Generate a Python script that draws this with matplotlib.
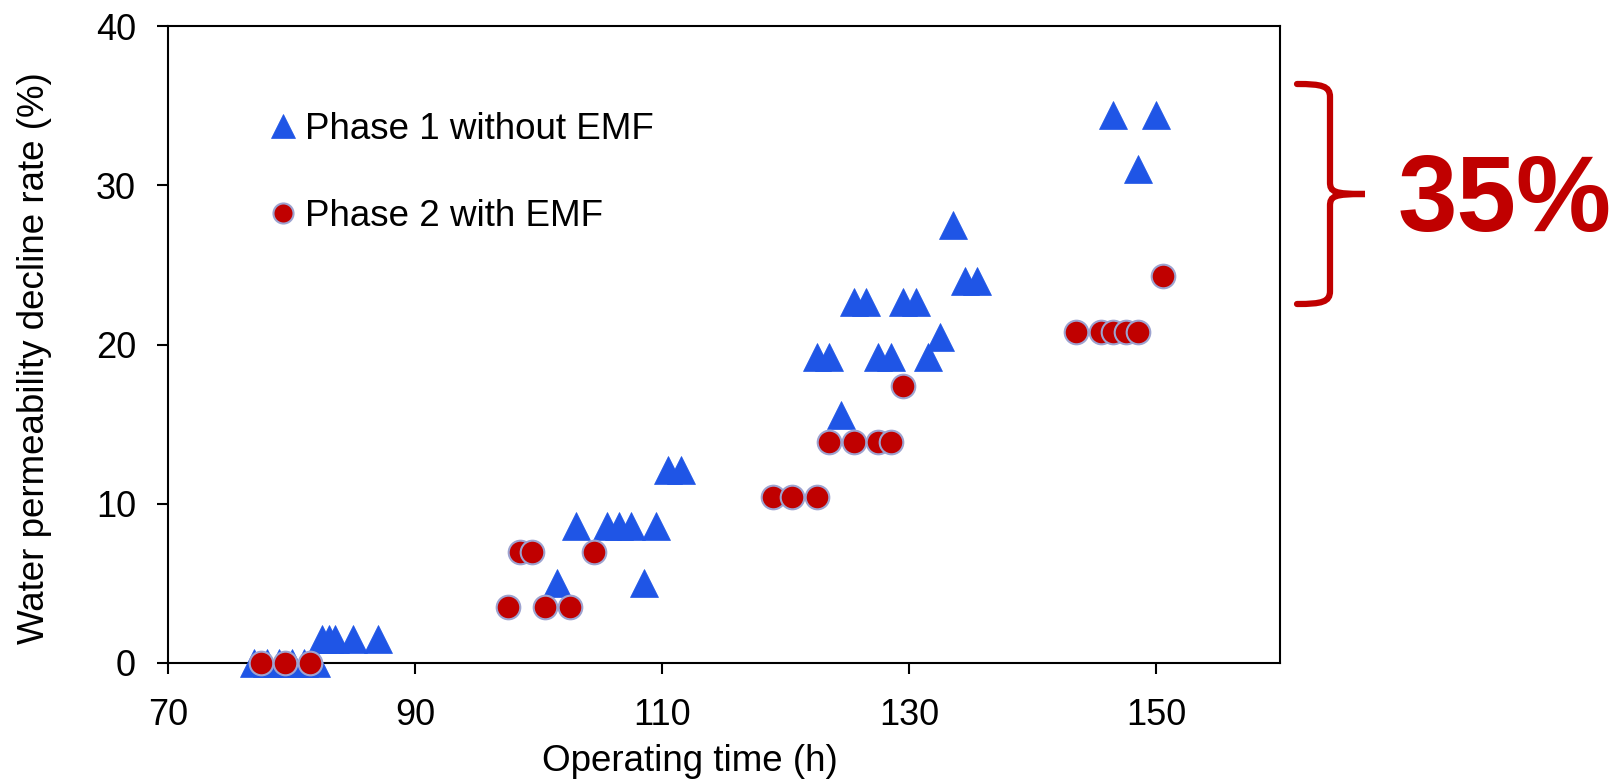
import matplotlib
matplotlib.use("Agg")
import matplotlib.pyplot as plt
from matplotlib.path import Path
from matplotlib.patches import PathPatch

plt.rcParams["font.family"] = ["Liberation Sans", "DejaVu Sans"]

# Phase 1 (without EMF)
phase1_time = [77, 78, 79, 80, 81, 82,
               82.5, 83, 83.5, 85, 87,
               101.5, 108.5,
               103, 105.5, 106.5, 107.5, 109.5,
               110.5, 111.5,
               124.5,
               122.5, 123.5, 127.5, 128.5, 131.5,
               132.5,
               125.5, 126.5, 129.5, 130.5,
               134.5, 135.5,
               133.5,
               148.5,
               146.5, 150]
phase1_rate = [0, 0, 0, 0, 0, 0,
               1.5, 1.5, 1.5, 1.5, 1.5,
               5.0, 5.0,
               8.6, 8.6, 8.6, 8.6, 8.6,
               12.1, 12.1,
               15.6,
               19.2, 19.2, 19.2, 19.2, 19.2,
               20.5,
               22.7, 22.7, 22.7, 22.7,
               24.0, 24.0,
               27.5,
               31.0,
               34.4, 34.4]

# Phase 2 (with EMF)
phase2_time = [77.5, 79.5, 81.5,
               97.5, 100.5, 102.5,
               98.5, 99.5, 104.5,
               119, 120.5, 122.5,
               123.5, 125.5, 127.5, 128.5,
               129.5,
               143.5, 145.5, 146.5, 147.5, 148.5,
               150.5]
phase2_rate = [0, 0, 0,
               3.5, 3.5, 3.5,
               7.0, 7.0, 7.0,
               10.4, 10.4, 10.4,
               13.9, 13.9, 13.9, 13.9,
               17.4,
               20.8, 20.8, 20.8, 20.8, 20.8,
               24.3]

x_ticks = [70, 90, 110, 130, 150]
y_ticks = [0, 10, 20, 30, 40]

blue = "#1F55E6"
red = "#C00000"

fig = plt.figure(figsize=(16.14, 7.80), dpi=100)
ax = fig.add_axes([168 / 1614, 1 - 663 / 780, (1280 - 168) / 1614, (663 - 26) / 780])

ax.plot(phase1_time, phase1_rate, linestyle="none", marker="^", ms=20,
        color=blue, mec=blue, mew=0.5, clip_on=False, zorder=3,
        label="Phase 1 without EMF")
ax.plot(phase2_time, phase2_rate, linestyle="none", marker="o", ms=17,
        color=red, mec="#9DA3D0", mew=1.5, clip_on=False, zorder=4,
        label="Phase 2 with EMF")

ax.set_xlim(70, 160)
ax.set_ylim(0, 40)
ax.set_xticks(x_ticks)
ax.set_yticks(y_ticks)
ax.tick_params(direction="out", length=8, width=1.5, labelsize=26)
ax.tick_params(axis="x", pad=17)
ax.tick_params(axis="y", pad=15)
for sp in ax.spines.values():
    sp.set_linewidth(1.5)

ax.set_xlabel("Operating time (h)", fontsize=26.5)
ax.set_ylabel("Water permeability decline rate (%)", fontsize=26.5)
ax.xaxis.set_label_coords(0.469, -0.127)
ax.yaxis.set_label_coords(-0.104, 0.479)

ax.legend(loc="upper left", bbox_to_anchor=(272 / 1614, 1 - 112 / 780),
          bbox_transform=fig.transFigure, frameon=False, fontsize=26.5,
          markerscale=0.85, handlelength=0.6, handletextpad=0.3,
          labelspacing=1.4, borderpad=0, borderaxespad=0)

# curly brace to the right of the plot
pts = [(1297, 84), (1322, 84), (1330, 86), (1330, 97),
       (1330, 182),
       (1330, 192), (1334, 194), (1365, 194),
       (1334, 194), (1330, 196), (1330, 206),
       (1330, 291),
       (1330, 302), (1322, 304), (1297, 304)]
codes = [Path.MOVETO, Path.CURVE4, Path.CURVE4, Path.CURVE4,
         Path.LINETO,
         Path.CURVE4, Path.CURVE4, Path.CURVE4,
         Path.CURVE4, Path.CURVE4, Path.CURVE4,
         Path.LINETO,
         Path.CURVE4, Path.CURVE4, Path.CURVE4]
verts = [(x / 1614, 1 - y / 780) for x, y in pts]
brace = PathPatch(Path(verts, codes), transform=fig.transFigure,
                  fill=False, edgecolor=red, linewidth=4.5, capstyle="round")
fig.patches.append(brace)

fig.text(1398 / 1614, 1 - 203 / 780, "35%", color=red, fontsize=77,
         fontweight="bold", ha="left", va="center")

fig.savefig("out.png", dpi=100)
